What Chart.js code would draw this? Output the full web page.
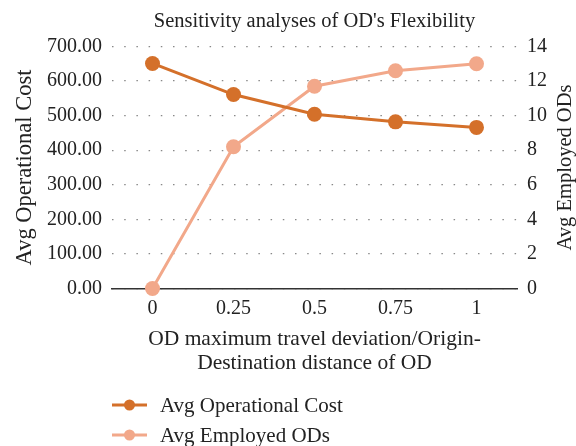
<!DOCTYPE html>
<html>
<head>
<meta charset="utf-8">
<script src="https://cdn.jsdelivr.net/npm/chart.js@4"></script>
<style>
	html, body { margin: 0; padding: 0; background: #fff; }
	#wrap { position: relative; width: 576px; height: 446px; }
	#legend { position: absolute; left: 112px; top: 390px; font-family: "Liberation Serif", serif; font-size: 21px; color: #222; }
	.item { position: relative; height: 30px; line-height: 30px; padding-left: 48px; white-space: nowrap; }
	.item svg { position: absolute; left: 0; top: 0; }
</style>
</head>
<body>
<div id="wrap">
	<canvas id="chart" width="576" height="446"></canvas>
	<div id="legend"></div>
</div>
<script>
const deviation = ["0", "0.25", "0.5", "0.75", "1"];
const opCost = [651, 561, 504, 482, 466];
const employedODs = [0, 8.2, 11.7, 12.6, 13.0];
const seriesNames = ["Avg Operational Cost", "Avg Employed ODs"];
const seriesColors = ["#d4702a", "#f2a88a"];

const FONT = "Liberation Serif";
const TEXT = "#222";

// legend drawn as html, rows stacked like the original
const legend = document.getElementById("legend");
seriesNames.forEach((name, i) => {
	let row = document.createElement("div");
	row.className = "item";
	row.innerHTML =
		`<svg width="36" height="30"><line x1="0" y1="15" x2="35" y2="15" stroke="${seriesColors[i]}" stroke-width="3"/>` +
		`<circle cx="17.5" cy="15" r="5.5" fill="${seriesColors[i]}"/></svg>` + name;
	legend.appendChild(row);
});

const extras = {
	id: "extras",
	afterDraw(chart) {
		const { ctx, chartArea: { top, bottom, left, right } } = chart;
		ctx.save();
		ctx.fillStyle = TEXT;
		// title centred on plot area
		ctx.font = `20.5px "${FONT}"`;
		ctx.textAlign = "center";
		ctx.textBaseline = "alphabetic";
		ctx.fillText("Sensitivity analyses of OD's Flexibility", (left + right) / 2, 27);
		// right axis title reads bottom to top
		ctx.font = `20.5px "${FONT}"`;
		ctx.translate(566, (top + bottom) / 2);
		ctx.rotate(-Math.PI / 2);
		ctx.textBaseline = "middle";
		ctx.fillText("Avg Employed ODs", 0, 0);
		ctx.restore();
	},
};

Chart.defaults.font.family = FONT;
Chart.defaults.color = TEXT;

new Chart(document.getElementById("chart"), {
	type: "line",
	data: {
		labels: deviation,
		datasets: [
			{
				label: seriesNames[0],
				data: opCost,
				yAxisID: "y",
				borderColor: seriesColors[0],
				backgroundColor: seriesColors[0],
				borderWidth: 3,
				pointRadius: 7.5,
				pointBorderWidth: 0,
				clip: false,
			},
			{
				label: seriesNames[1],
				data: employedODs,
				yAxisID: "y1",
				borderColor: seriesColors[1],
				backgroundColor: seriesColors[1],
				borderWidth: 3,
				pointRadius: 7.5,
				pointBorderWidth: 0,
				clip: false,
			},
		],
	},
	plugins: [extras],
	options: {
		responsive: false,
		animation: false,
		layout: { padding: { top: 46.5, bottom: 70.5, left: 0, right: 0 } },
		plugins: {
			legend: { display: false },
			tooltip: { enabled: false },
			title: { display: false },
		},
		scales: {
			x: {
				offset: true,
				grid: { display: false },
				border: { display: true, color: "#333", width: 1.5 },
				ticks: { font: { size: 20 }, padding: 0, maxRotation: 0 },
				title: {
					display: true,
					text: ["OD maximum travel deviation/Origin-", "Destination distance of OD"],
					font: { size: 21.5, lineHeight: 1.12 },
					padding: 0,
				},
				afterFit(scale) {
					scale.height = 87;
				},
			},
			y: {
				position: "left",
				min: 0,
				max: 700,
				ticks: {
					stepSize: 100,
					font: { size: 20 },
					padding: 10,
					callback: (v) => v.toFixed(2),
				},
				grid: { color: "#888", lineWidth: 1.2, drawTicks: false },
				border: { display: false, dash: [1.5, 10.7] },
				title: {
					display: true,
					text: "Avg Operational Cost",
					font: { size: 22.5 },
					padding: { top: 12, bottom: 0 },
				},
				afterFit(scale) {
					scale.width = 112;
				},
			},
			y1: {
				position: "right",
				min: 0,
				max: 14,
				ticks: { stepSize: 2, font: { size: 20 }, padding: 10 },
				grid: { display: false, drawTicks: false },
				border: { display: false },
				afterFit(scale) {
					scale.width = 59;
				},
			},
		},
	},
});
</script>
</body>
</html>
